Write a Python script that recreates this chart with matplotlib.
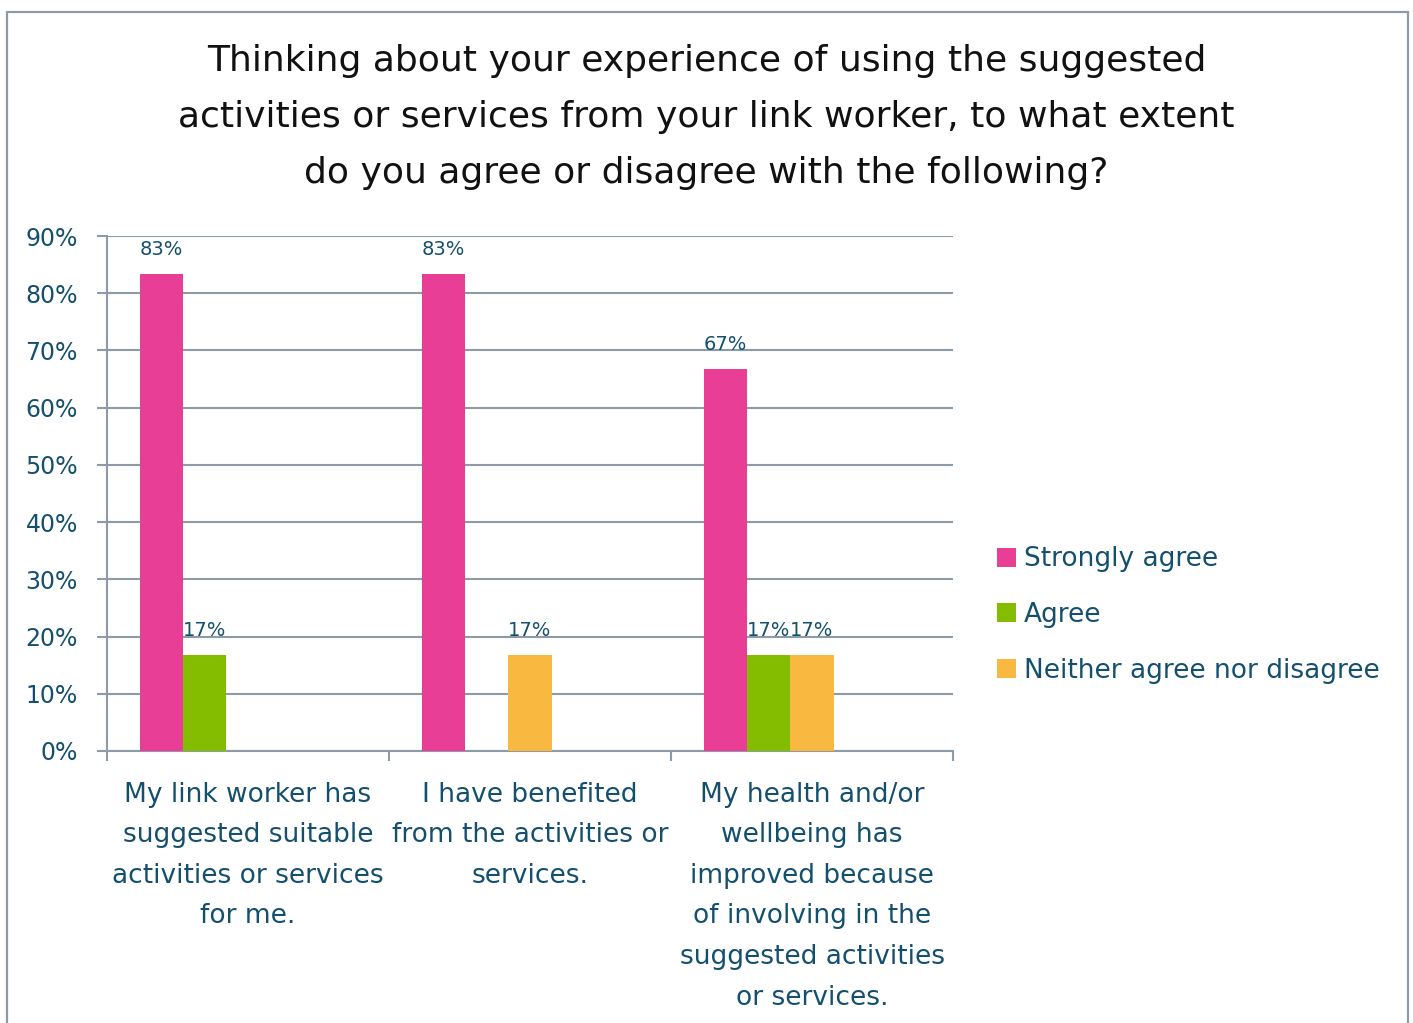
import matplotlib
matplotlib.use("Agg")
import matplotlib.pyplot as plt
import matplotlib.patches as patches
import numpy as np

plt.rcParams['font.family'] = ['DejaVu Sans']

# survey answers, share of respondents per statement
categories = [
    "My link worker has\nsuggested suitable\nactivities or services\nfor me.",
    "I have benefited\nfrom the activities or\nservices.",
    "My health and/or\nwellbeing has\nimproved because\nof involving in the\nsuggested activities\nor services.",
]
series_names = ["Strongly agree", "Agree", "Neither agree nor disagree",
                "Disagree", "Strongly disagree"]
strongly_agree = [83.3, 83.3, 66.7]
agree = [16.7, 0, 16.7]
neither = [0, 16.7, 16.7]
disagree = [0, 0, 0]
strongly_disagree = [0, 0, 0]
y_ticks = [0, 10, 20, 30, 40, 50, 60, 70, 80, 90]

values = [strongly_agree, agree, neither, disagree, strongly_disagree]
colors = ["#E83E96", "#84BD00", "#F9B940", "#1F77B4", "#7F7F7F"]
in_legend = [True, True, True, False, False]

TEXT = "#14506E"
GRID = "#8D9BA8"

fig = plt.figure(figsize=(14.13, 10.23), dpi=100)
ax = fig.add_axes([107 / 1413, 1 - 751 / 1023, (953 - 107) / 1413, (751 - 236) / 1023])

# outer frame of the chart area (open at the bottom edge)
frame = patches.Rectangle((6.5 / 1413, -0.02), (1408 - 6.5) / 1413, 1.02 - 11.5 / 1023,
                          transform=fig.transFigure, fill=False,
                          edgecolor=GRID, linewidth=1.6)
fig.patches.append(frame)

fig.text(0.5, 1 - 117 / 1023,
         "Thinking about your experience of using the suggested\n"
         "activities or services from your link worker, to what extent\n"
         "do you agree or disagree with the following?",
         ha='center', va='center', fontsize=26, color="#111111", linespacing=1.8)

x = np.arange(len(categories))
n = len(series_names)
width = 1 / (n + 1.5)

for j, (name, vals, col) in enumerate(zip(series_names, values, colors)):
    pos = x + (j - (n - 1) / 2) * width
    bars = ax.bar(pos, vals, width, color=col, label=name if in_legend[j] else '_nolegend_',
                  zorder=3)
    for b, v in zip(bars, vals):
        if v > 0:
            ax.annotate(f"{v:.0f}%", (b.get_x() + b.get_width() / 2, v),
                        xytext=(0, 11), textcoords='offset points',
                        ha='center', va='bottom', fontsize=14, color=TEXT)

ax.set_xlim(-0.5, len(categories) - 0.5)
ax.set_ylim(0, 90)
ax.set_yticks(y_ticks)
ax.set_yticklabels([f"{t}%" for t in y_ticks])
ax.yaxis.grid(True, color=GRID, linewidth=1.5, zorder=0)
ax.set_axisbelow(True)

ax.set_xticks(x)
ax.set_xticklabels(categories, fontsize=19, color=TEXT, linespacing=1.73)
ax.set_xticks(np.arange(len(categories) + 1) - 0.5, minor=True)
ax.tick_params(axis='x', which='major', length=0, pad=22)
ax.tick_params(axis='x', which='minor', length=7, width=1.5, color=GRID)
ax.tick_params(axis='y', length=7, width=1.5, color=GRID, labelsize=17,
               labelcolor=TEXT, pad=14)

for side in ['top', 'right']:
    ax.spines[side].set_visible(False)
for side in ['left', 'bottom']:
    ax.spines[side].set_color(GRID)
    ax.spines[side].set_linewidth(1.5)

leg = fig.legend(loc='center left', bbox_to_anchor=(997 / 1413, 1 - 615 / 1023),
                 frameon=False, fontsize=19, labelcolor=TEXT, borderpad=0,
                 borderaxespad=0, handlelength=0.72, handleheight=0.72,
                 handletextpad=0.3, labelspacing=1.12)

fig.savefig("out.png", dpi=100)
